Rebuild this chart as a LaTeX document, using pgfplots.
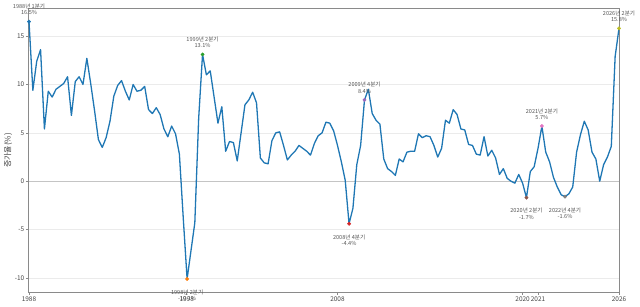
\documentclass[border=0pt]{standalone}
\usepackage{fontspec}
\setmainfont{Noto Sans CJK KR}
\usepackage{pgfplots}
\usepackage{pgfplotstable}
\pgfplotsset{compat=1.18}

\definecolor{lineblue}{HTML}{1F77B4}
\definecolor{tabblue}{HTML}{1F77B4}
\definecolor{taborange}{HTML}{FF7F0E}
\definecolor{tabgreen}{HTML}{2CA02C}
\definecolor{tabred}{HTML}{D62728}
\definecolor{tabpurple}{HTML}{9467BD}
\definecolor{tabbrown}{HTML}{8C564B}
\definecolor{tabpink}{HTML}{E377C2}
\definecolor{tabgray}{HTML}{7F7F7F}
\definecolor{tabolive}{HTML}{BCBD22}
\definecolor{gridgray}{HTML}{EBEBEB}
\definecolor{zerogray}{HTML}{C4C4C4}
\definecolor{framegray}{HTML}{8A8A8A}
\definecolor{labelgray}{HTML}{444444}
\definecolor{annogray}{HTML}{555555}

% quarterly growth rate, q = 0 is 1988 Q1, q = 153 is 2026 Q2
\pgfplotstableread{
q v
0 16.5
1 9.4
2 12.4
3 13.6
4 5.4
5 9.3
6 8.7
7 9.5
8 9.8
9 10.1
10 10.8
11 6.8
12 10.3
13 10.8
14 10.0
15 12.7
16 10.1
17 7.3
18 4.3
19 3.5
20 4.5
21 6.2
22 8.8
23 9.9
24 10.4
25 9.3
26 8.4
27 10.0
28 9.3
29 9.4
30 9.8
31 7.4
32 7.0
33 7.6
34 6.9
35 5.4
36 4.6
37 5.7
38 4.9
39 2.8
40 -3.8
41 -10.1
42 -7.2
43 -4.3
44 6.5
45 13.1
46 11.0
47 11.4
48 8.7
49 6.0
50 7.7
51 3.1
52 4.1
53 4.0
54 2.1
55 5.0
56 7.9
57 8.4
58 9.2
59 8.1
60 2.4
61 1.9
62 1.8
63 4.2
64 5.0
65 5.1
66 3.7
67 2.2
68 2.7
69 3.1
70 3.7
71 3.4
72 3.1
73 2.7
74 3.9
75 4.7
76 5.0
77 6.1
78 6.0
79 5.2
80 3.7
81 2.0
82 0.1
83 -4.4
84 -2.8
85 1.7
86 3.7
87 8.4
88 9.5
89 7.0
90 6.3
91 5.9
92 2.3
93 1.3
94 1.0
95 0.6
96 2.3
97 2.0
98 3.0
99 3.1
100 3.1
101 4.9
102 4.5
103 4.7
104 4.6
105 3.7
106 2.5
107 3.4
108 6.3
109 6.0
110 7.4
111 6.9
112 5.4
113 5.3
114 3.8
115 3.7
116 2.8
117 2.7
118 4.6
119 2.6
120 3.2
121 2.4
122 0.7
123 1.3
124 0.3
125 0.0
126 -0.2
127 0.7
128 -0.2
129 -1.7
130 1.0
131 1.5
132 3.4
133 5.7
134 3.0
135 2.0
136 0.4
137 -0.6
138 -1.4
139 -1.6
140 -1.3
141 -0.6
142 3.0
143 4.8
144 6.2
145 5.3
146 3.0
147 2.3
148 0.0
149 1.7
150 2.5
151 3.6
152 12.9
153 15.8
}\growth

\tikzset{
  anno/.style={align=center, font=\fontsize{5.6}{6.3}\selectfont, text=annogray, inner sep=0pt},
  annoup/.style={anno, anchor=south, yshift=6.5bp},
  annodown/.style={anno, anchor=north, yshift=-10.5bp},
}

\begin{document}
\begin{tikzpicture}
\useasboundingbox (-29bp,-15bp) rectangle (611bp,292bp);
\begin{axis}[
  scale only axis,
  width=590bp, height=283bp,
  xmin=0, xmax=153,
  ymin=-11.45, ymax=17.8,
  clip=false,
  xtick={0,40.9,80,128,132,153},
  xticklabels={1988,1998,2008,2020,2021,2026},
  ytick={-10,-5,0,5,10,15},
  ymajorgrids,
  grid style={draw=gridgray, line width=0.6bp},
  axis line style={draw=framegray, line width=1bp},
  tick style={draw=framegray, line width=0.6bp},
  tick align=outside,
  major tick length=3bp,
  tick pos=left,
  /pgf/number format/assume math mode=true,
  ticklabel style={font=\fontsize{6.5}{7}\selectfont, text=labelgray},
  xticklabel style={inner sep=1.5bp},
  yticklabel style={inner sep=1.5bp},
  ylabel={증가율(\%)},
  ylabel style={at={(axis description cs:-0.0356,0.5)}, anchor=center,
    font=\fontsize{8}{9}\selectfont, text=labelgray},
]
% darker reference line at zero
\addplot[draw=zerogray, line width=0.8bp, forget plot] coordinates {(0,0) (153,0)};

\addplot[draw=lineblue, line width=1.3bp, line join=round, mark=none] table[x=q, y=v] {\growth};

% highlighted quarters
\addplot[only marks, mark=*, mark size=1.7bp, color=tabblue]   coordinates {(0,16.5)};
\addplot[only marks, mark=*, mark size=1.7bp, color=taborange] coordinates {(41,-10.1)};
\addplot[only marks, mark=*, mark size=1.7bp, color=tabgreen]  coordinates {(45,13.1)};
\addplot[only marks, mark=*, mark size=1.7bp, color=tabred]    coordinates {(83,-4.4)};
\addplot[only marks, mark=*, mark size=1.7bp, color=tabpurple] coordinates {(87,8.4)};
\addplot[only marks, mark=*, mark size=1.7bp, color=tabbrown]  coordinates {(129,-1.7)};
\addplot[only marks, mark=*, mark size=1.7bp, color=tabpink]   coordinates {(133,5.7)};
\addplot[only marks, mark=*, mark size=1.7bp, color=tabgray]   coordinates {(139,-1.6)};
\addplot[only marks, mark=*, mark size=1.7bp, color=tabolive]  coordinates {(153,15.8)};

\node[annoup]   at (axis cs:0,16.5)   {1988년 1분기\\16.5\%};
\node[annodown] at (axis cs:41,-10.1) {1998년 2분기\\-10.1\%};
\node[annoup]   at (axis cs:45,13.1)  {1999년 2분기\\13.1\%};
\node[annodown] at (axis cs:83,-4.4)  {2008년 4분기\\-4.4\%};
\node[annoup]   at (axis cs:87,8.4)   {2009년 4분기\\8.4\%};
\node[annodown] at (axis cs:129,-1.7) {2020년 2분기\\-1.7\%};
\node[annoup]   at (axis cs:133,5.7)  {2021년 2분기\\5.7\%};
\node[annodown] at (axis cs:139,-1.6) {2022년 4분기\\-1.6\%};
\node[annoup]   at (axis cs:153,15.8) {2026년 2분기\\15.8\%};
\end{axis}
\end{tikzpicture}
\end{document}
